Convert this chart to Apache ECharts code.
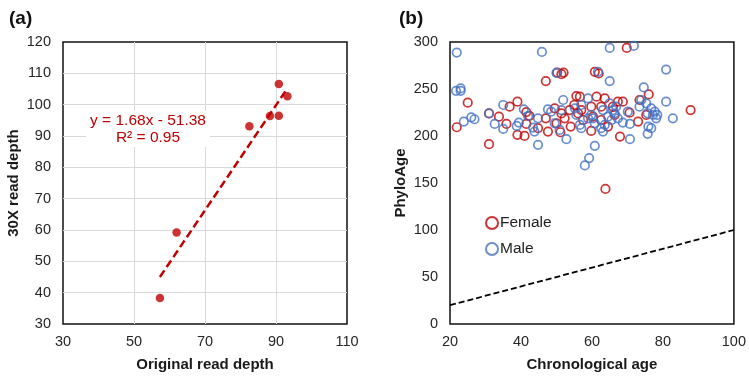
<!DOCTYPE html>
<html>
<head>
<meta charset="utf-8">
<script src="https://cdn.jsdelivr.net/npm/echarts@6/dist/echarts.min.js"></script>
<style>
  html, body { margin: 0; padding: 0; background: #fff; }
  #main { width: 749px; height: 377px; }
</style>
</head>
<body>
<div id="main"></div>
<script>
// panel (a): read depth comparison
var origDepth = [57.3, 62.0, 82.5, 88.3, 90.8, 90.8, 93.2];
var depth30x = [38.3, 59.2, 93.1, 96.4, 96.5, 106.6, 102.7];
var trendX = [57.3, 93.2];
var trendY = [45.0, 105.2];

// panel (b): PhyloAge vs chronological age
var femaleAge = [21.9, 25.0, 31.0, 31.0, 33.8, 35.9, 36.8, 39.0, 39.0, 41.0, 41.5, 42.4, 44.8, 47.0, 47.0, 47.6,
  50.2, 51.4, 52.0, 49.5, 50.0, 51.1, 51.4, 54.0, 53.7, 55.0, 55.6, 56.6, 57.0, 59.8, 59.8, 60.3, 60.8, 61.3,
  61.9, 62.6, 63.8, 63.6, 64.5, 67.3, 67.9, 68.7, 69.8, 70.6, 73.0, 73.4, 76.0, 75.3, 87.8, 65.9, 66.4, 56.1,
  57.5, 62.6, 52.3, 41.5];
var femalePhylo = [209.3, 235.4, 191.3, 224.0, 220.6, 212.8, 231.2, 236.5, 201.2, 200.1, 225.5, 221.3, 208.3, 258.4, 218.8, 204.7,
  267.5, 265.8, 267.5, 229.4, 213.5, 204.0, 224.0, 210.0, 227.6, 233.0, 242.5, 241.8, 227.6, 231.2, 205.4, 220.6, 268.3, 241.8,
  266.5, 217.0, 143.7, 240.0, 210.0, 236.5, 199.4, 236.5, 293.7, 224.8, 215.3, 238.3, 244.2, 222.4, 227.6, 231.2, 222.4, 224.0,
  217.0, 231.2, 218.8, 212.8];
var maleAge = [21.9, 21.7, 23.0, 23.0, 23.9, 26.0, 26.9, 31.0, 32.6, 35.0, 35.0, 38.8, 39.4, 40.8, 43.4, 43.8,
  44.8, 44.8, 45.9, 47.6, 48.5, 49.5, 50.0, 51.9, 52.8, 50.9, 55.2, 55.6, 56.6, 57.0, 58.0, 59.2, 58.9, 58.9,
  59.8, 60.8, 60.8, 61.7, 62.6, 63.1, 63.1, 64.5, 65.0, 65.0, 65.0, 65.5, 66.4, 67.3, 68.7, 70.1, 70.7, 70.7,
  71.8, 73.4, 73.9, 74.6, 75.3, 75.7, 75.9, 75.7, 76.7, 76.7, 77.2, 77.7, 78.1, 78.4, 80.9, 80.9, 82.8, 63.6,
  57.0, 51.4, 42.0, 60.3, 65.9, 66.8];
var malePhylo = [288.7, 248.1, 250.6, 248.1, 215.3, 219.9, 217.8, 224.1, 212.8, 233.0, 207.5, 210.7, 214.3, 228.4, 209.0, 204.7,
  190.6, 218.8, 289.4, 228.4, 225.9, 213.5, 267.2, 238.3, 196.6, 206.5, 229.4, 222.4, 211.8, 208.3, 168.7, 176.5, 240.0, 218.8,
  222.4, 189.5, 213.5, 268.3, 208.3, 204.7, 227.6, 220.6, 293.7, 258.4, 234.7, 217.0, 224.1, 218.8, 214.3, 225.9, 212.8, 196.6,
  295.8, 231.2, 238.3, 251.7, 234.7, 224.1, 210.0, 202.3, 208.3, 229.4, 222.4, 225.9, 218.8, 222.4, 270.7, 236.5, 218.8, 211.8,
  233.0, 227.6, 221.3, 218.8, 227.6, 231.2];
var identityLine = [20, 100];

function pairs(xs, ys) {
  return xs.map(function (x, i) { return [x, ys[i]]; });
}

var RED = '#c00000';
var BLUE = '#4472c4';
var FONT = 'Liberation Sans, Arial, sans-serif';
var tickLabel = { color: '#262626', fontSize: 14.5, fontFamily: FONT, margin: 12 };
var nameStyle = { color: '#1a1a1a', fontSize: 15, fontWeight: 'bold', fontFamily: FONT };
var gridLines = { show: true, showMinLine: false, showMaxLine: false, lineStyle: { color: '#d9d9d9', width: 1 } };

var chart = echarts.init(document.getElementById('main'));
chart.setOption({
  animation: false,
  title: [
    { text: '(a)', left: 4, top: 4, textStyle: { fontSize: 19, fontWeight: 'bold', color: '#111', fontFamily: FONT } },
    { text: '(b)', left: 394, top: 4, textStyle: { fontSize: 19, fontWeight: 'bold', color: '#111', fontFamily: FONT } }
  ],
  grid: [
    { left: 63, right: 402, top: 42, bottom: 51, show: true, borderColor: '#111', borderWidth: 1.5, backgroundColor: '#fff' },
    { left: 450, right: 15, top: 42, bottom: 52, show: true, borderColor: '#111', borderWidth: 1.5, backgroundColor: '#fff' }
  ],
  xAxis: [
    {
      gridIndex: 0, type: 'value', min: 30, max: 110, interval: 20,
      name: 'Original read depth', nameLocation: 'middle', nameGap: 33, nameTextStyle: nameStyle,
      axisLine: { show: false }, axisTick: { show: false }, axisLabel: Object.assign({}, tickLabel, { margin: 10 }),
      splitLine: gridLines
    },
    {
      gridIndex: 1, type: 'value', min: 20, max: 100, interval: 20,
      name: 'Chronological age', nameLocation: 'middle', nameGap: 33, nameTextStyle: nameStyle,
      axisLine: { show: false }, axisTick: { show: false }, axisLabel: Object.assign({}, tickLabel, { margin: 10 }),
      splitLine: { show: false }
    }
  ],
  yAxis: [
    {
      gridIndex: 0, type: 'value', min: 30, max: 120, interval: 10,
      name: '30X read depth', nameLocation: 'middle', nameGap: 42, nameTextStyle: nameStyle,
      axisLine: { show: false }, axisTick: { show: false }, axisLabel: tickLabel,
      splitLine: gridLines
    },
    {
      gridIndex: 1, type: 'value', min: 0, max: 300, interval: 50,
      name: 'PhyloAge', nameLocation: 'middle', nameGap: 42, nameTextStyle: nameStyle,
      axisLine: { show: false }, axisTick: { show: false }, axisLabel: tickLabel,
      splitLine: { show: false }
    }
  ],
  legend: {
    data: ['Female', 'Male'],
    orient: 'vertical', left: 480, top: 210, itemGap: 10,
    itemWidth: 12, itemHeight: 12,
    textStyle: { fontSize: 15.5, color: '#222', fontFamily: FONT, padding: [0, 0, 0, -3] }
  },
  series: [
    {
      type: 'line', xAxisIndex: 0, yAxisIndex: 0, data: pairs(trendX, trendY),
      symbol: 'none', lineStyle: { color: RED, width: 2.5, type: [8, 4] }, z: 2
    },
    {
      type: 'scatter', xAxisIndex: 0, yAxisIndex: 0, data: pairs(origDepth, depth30x),
      symbol: 'circle', symbolSize: 8.5, itemStyle: { color: RED }, z: 3
    },
    {
      type: 'line', xAxisIndex: 1, yAxisIndex: 1, data: pairs(identityLine, identityLine),
      symbol: 'none', lineStyle: { color: '#000', width: 1.8, type: [6, 3] }, z: 2
    },
    {
      name: 'Female', type: 'scatter', xAxisIndex: 1, yAxisIndex: 1, data: pairs(femaleAge, femalePhylo),
      symbol: 'circle', symbolSize: 8.5,
      itemStyle: { color: 'rgba(255,255,255,0)', borderColor: RED, borderWidth: 1.7 }, z: 3
    },
    {
      name: 'Male', type: 'scatter', xAxisIndex: 1, yAxisIndex: 1, data: pairs(maleAge, malePhylo),
      symbol: 'circle', symbolSize: 8.5,
      itemStyle: { color: 'rgba(255,255,255,0)', borderColor: BLUE, borderWidth: 1.7 }, z: 4
    }
  ],
  graphic: [
    {
      type: 'text', x: 148, y: 111, z: 10,
      style: {
        text: 'y = 1.68x - 51.38\nR² = 0.95', fill: RED, fontSize: 15.5, fontFamily: FONT,
        align: 'center', verticalAlign: 'top', lineHeight: 17, backgroundColor: '#fff', padding: [1, 4]
      }
    }
  ]
});
</script>
</body>
</html>
